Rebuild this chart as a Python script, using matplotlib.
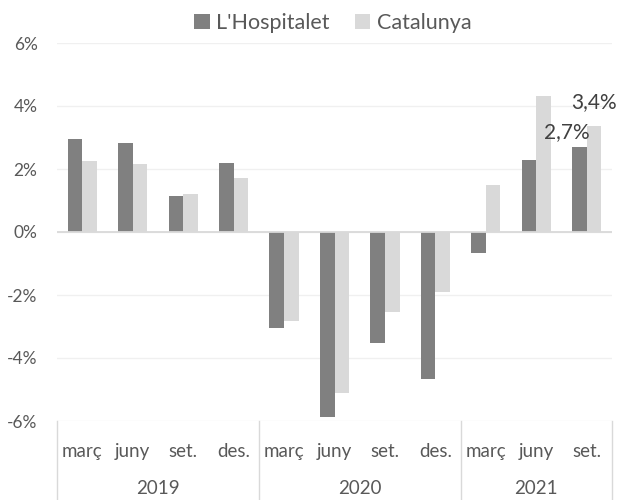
import numpy as np
import matplotlib
matplotlib.use("Agg")
import matplotlib.pyplot as plt
import matplotlib.transforms as mtransforms

months = ["març", "juny", "set.", "des.", "març", "juny", "set.", "des.", "març", "juny", "set."]
years = ["2019", "2020", "2021"]
year_sizes = [4, 4, 3]

hospitalet = [2.95, 2.82, 1.14, 2.18, -3.06, -5.86, -3.51, -4.67, -0.68, 2.29, 2.70]
catalunya = [2.24, 2.16, 1.20, 1.73, -2.81, -5.11, -2.54, -1.91, 1.50, 4.32, 3.37]

dark = "#808080"
light = "#d9d9d9"
txt = "#595959"

plt.rcParams["font.family"] = ["Lato", "DejaVu Sans"]

fig = plt.figure(figsize=(6.19, 5.0), dpi=100)
ax = fig.add_axes([57 / 619, 1 - 421 / 500, (612 - 57) / 619, (421 - 43) / 500])

x = np.arange(len(months))
w = 0.29
b1 = ax.bar(x - w / 2, hospitalet, w, color=dark, label="L'Hospitalet", zorder=3)
b2 = ax.bar(x + w / 2, catalunya, w, color=light, label="Catalunya", zorder=3)

ax.set_xlim(-0.5, len(months) - 0.5)
ax.set_ylim(-6, 6)
ax.set_yticks(np.arange(-6, 7, 2))
ax.set_yticklabels([f"{v}%" for v in range(-6, 7, 2)])
ax.grid(axis="y", color="#f0f0f0", linewidth=1, zorder=0)
ax.axhline(0, color="#d9d9d9", linewidth=1.3, zorder=4)
for s in ax.spines.values():
    s.set_visible(False)
ax.tick_params(axis="y", length=0, labelsize=12.5, labelcolor=txt, pad=14)

ax.set_xticks(x)
ax.set_xticklabels(months)
ax.tick_params(axis="x", length=0, labelsize=13.5, labelcolor=txt, pad=16)

# multi-level category axis
trans = mtransforms.blended_transform_factory(ax.transData, ax.transAxes)
edges = np.concatenate([[0], np.cumsum(year_sizes)]) - 0.5
for e in edges:
    ax.plot([e, e], [0, -0.22], color="#d9d9d9", linewidth=1, transform=trans, clip_on=False)
for i, yr in enumerate(years):
    c = (edges[i] + edges[i + 1]) / 2
    ax.text(c, -0.178, yr, transform=trans, ha="center", va="center", fontsize=13.5, color=txt)

# data labels on last period
ax.annotate(f"{hospitalet[-1]:.1f}%".replace(".", ","), (x[-1] - w / 2, hospitalet[-1]),
            xytext=(-13, 15), textcoords="offset pixels", ha="center", va="center",
            fontsize=15, color="#404040")
ax.annotate(f"{catalunya[-1]:.1f}%".replace(".", ","), (x[-1] + w / 2, catalunya[-1]),
            xytext=(0, 24), textcoords="offset pixels", ha="center", va="center",
            fontsize=15, color="#404040")

fig.legend(handles=[b1, b2], loc="center", bbox_to_anchor=(333 / 619, 1 - 23 / 500), ncol=2,
           frameon=False, fontsize=15.5, labelcolor=txt, handlelength=0.7, handleheight=0.7,
           handletextpad=0.3, columnspacing=1.2)

fig.savefig("out.png", dpi=100)
